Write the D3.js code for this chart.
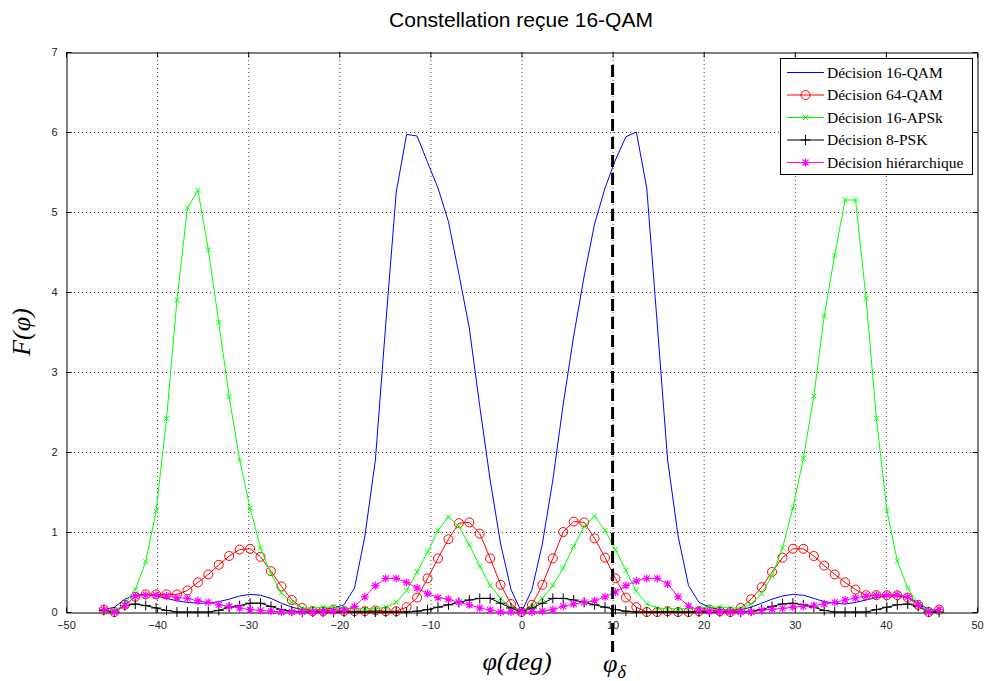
<!DOCTYPE html>
<html>
<head>
<meta charset="utf-8">
<script src="https://cdn.jsdelivr.net/npm/d3@7"></script>
<style>
  html, body { margin: 0; padding: 0; background: #fff; }
  svg { display: block; }
</style>
</head>
<body>
<svg id="chart" width="985" height="681"></svg>
<script>
// ---------- DATA ----------
// phase offsets (degrees)
const phi = [
 -45.84, -44.69, -43.54, -42.40, -41.25, -40.11, -38.96, -37.82, -36.67, -35.52,
 -34.38, -33.23, -32.09, -30.94, -29.79, -28.65, -27.50, -26.36, -25.21, -24.06,
 -22.92, -21.77, -20.63, -19.48, -18.33, -17.19, -16.04, -14.90, -13.75, -12.61,
 -11.46, -10.31, -9.17, -8.02, -6.88, -5.73, -4.58, -3.44, -2.29, -1.15,
 0,
 1.15, 2.29, 3.44, 4.58, 5.73, 6.88, 8.02, 9.17, 10.31, 11.46,
 12.61, 13.75, 14.90, 16.04, 17.19, 18.33, 19.48, 20.63, 21.77, 22.92,
 24.06, 25.21, 26.36, 27.50, 28.65, 29.79, 30.94, 32.09, 33.23, 34.38,
 35.52, 36.67, 37.82, 38.96, 40.11, 41.25, 42.40, 43.54, 44.69, 45.84
];

const qam16 = [
 0.03, 0.06, 0.16, 0.21, 0.22, 0.20, 0.17, 0.14, 0.12, 0.11,
 0.11, 0.13, 0.16, 0.20, 0.22, 0.21, 0.17, 0.11, 0.06, 0.03,
 0.02, 0.03, 0.05, 0.09, 0.30, 0.95, 1.90, 3.60, 5.25, 5.97,
 5.95, 5.62, 5.30, 4.88, 4.23, 3.55, 2.57, 1.65, 0.85, 0.28,
 0.00,
 0.28, 0.85, 1.65, 2.60, 3.45, 4.20, 4.85, 5.30, 5.65, 5.94,
 6.00, 5.30, 3.60, 1.90, 0.95, 0.33, 0.12, 0.06, 0.03, 0.02,
 0.03, 0.06, 0.11, 0.16, 0.20, 0.22, 0.21, 0.17, 0.13, 0.11,
 0.10, 0.12, 0.15, 0.18, 0.20, 0.20, 0.18, 0.12, 0.03, 0.02
];

const qam64 = [
 0.03, 0.00, 0.09, 0.19, 0.22, 0.22, 0.22, 0.22, 0.27, 0.37,
 0.47, 0.59, 0.70, 0.78, 0.79, 0.69, 0.51, 0.32, 0.15, 0.05,
 0.01, 0.01, 0.03, 0.01, 0.01, 0.01, 0.02, 0.01, 0.01, 0.06,
 0.18, 0.42, 0.67, 0.91, 1.11, 1.12, 0.98, 0.67, 0.34, 0.10,
 0.00,
 0.09, 0.34, 0.67, 1.00, 1.13, 1.12, 0.92, 0.68, 0.42, 0.18,
 0.06, 0.00, 0.00, 0.01, 0.00, 0.00, 0.01, 0.03, 0.01, 0.00,
 0.05, 0.16, 0.31, 0.50, 0.68, 0.79, 0.79, 0.70, 0.58, 0.47,
 0.37, 0.28, 0.21, 0.21, 0.21, 0.21, 0.18, 0.09, 0.00, 0.03
];

const apsk16 = [
 0.00, 0.02, 0.10, 0.28, 0.63, 1.26, 2.42, 3.90, 5.05, 5.27,
 4.53, 3.62, 2.69, 1.90, 1.30, 0.80, 0.48, 0.24, 0.12, 0.05,
 0.05, 0.06, 0.06, 0.05, 0.04, 0.04, 0.04, 0.06, 0.12, 0.27,
 0.50, 0.75, 1.02, 1.19, 1.07, 0.84, 0.57, 0.33, 0.17, 0.05,
 0.00,
 0.07, 0.17, 0.33, 0.55, 0.82, 1.07, 1.20, 1.02, 0.78, 0.52,
 0.26, 0.10, 0.05, 0.04, 0.04, 0.04, 0.05, 0.06, 0.06, 0.05,
 0.05, 0.10, 0.23, 0.45, 0.80, 1.30, 1.92, 2.70, 3.70, 4.46,
 5.15, 5.15, 3.92, 2.42, 1.27, 0.64, 0.30, 0.10, 0.02, 0.00
];

const psk8 = [
 0.02, 0.00, 0.08, 0.10, 0.08, 0.05, 0.02, 0.00, 0.00, 0.00,
 0.00, 0.02, 0.06, 0.08, 0.11, 0.11, 0.07, 0.03, 0.01, 0.00,
 0.00, 0.00, 0.00, 0.00, 0.00, 0.00, 0.00, 0.00, 0.00, 0.00,
 0.01, 0.03, 0.06, 0.09, 0.12, 0.15, 0.17, 0.17, 0.11, 0.05,
 0.00,
 0.05, 0.11, 0.17, 0.17, 0.15, 0.12, 0.09, 0.06, 0.03, 0.01,
 0.00, 0.00, 0.00, 0.00, 0.00, 0.00, 0.00, 0.00, 0.00, 0.00,
 0.00, 0.01, 0.03, 0.07, 0.10, 0.11, 0.09, 0.06, 0.02, 0.00,
 0.00, 0.00, 0.00, 0.03, 0.06, 0.09, 0.10, 0.07, 0.00, 0.00
];

const hier = [
 0.03, 0.00, 0.08, 0.20, 0.21, 0.21, 0.20, 0.18, 0.17, 0.14,
 0.12, 0.09, 0.07, 0.05, 0.03, 0.02, 0.01, 0.00, 0.00, 0.00,
 0.00, 0.00, 0.01, 0.02, 0.07, 0.19, 0.33, 0.42, 0.42, 0.37,
 0.30, 0.23, 0.18, 0.16, 0.12, 0.09, 0.05, 0.025, 0.00, 0.00,
 0.00,
 0.00, 0.01, 0.03, 0.07, 0.10, 0.12, 0.14, 0.19, 0.25, 0.33,
 0.39, 0.42, 0.42, 0.35, 0.19, 0.075, 0.025, 0.01, 0.00, 0.00,
 0.00, 0.00, 0.02, 0.035, 0.045, 0.06, 0.07, 0.08, 0.10, 0.12,
 0.15, 0.175, 0.20, 0.21, 0.21, 0.215, 0.19, 0.09, 0.00, 0.03
];

const seriesNames = ["Décision 16-QAM", "Décision 64-QAM", "Décision 16-APSk", "Décision 8-PSK", "Décision hiérarchique"];
const seriesValues = [qam16, qam64, apsk16, psk8, hier];
const seriesColors = ["#0000ff", "#ff0000", "#00ff00", "#000000", "#ff00ff"];
const seriesMarkers = ["none", "circle", "x", "plus", "star"];

const xTicks = [-50, -40, -30, -20, -10, 0, 10, 20, 30, 40, 50];
const yTicks = [0, 1, 2, 3, 4, 5, 6, 7];
const phiDelta = 10;
const titleText = "Constellation reçue 16-QAM";

// ---------- LAYOUT ----------
const W = 985, H = 681;
const m = { left: 66, right: 977, top: 52, bottom: 612 };

const svg = d3.select("#chart");
svg.append("rect").attr("width", W).attr("height", H).attr("fill", "#fff");

const x = d3.scaleLinear().domain([-50, 50]).range([m.left, m.right]);
const y = d3.scaleLinear().domain([0, 7]).range([m.bottom, m.top]);

// grid
const grid = svg.append("g");
grid.selectAll("line.gx").data(xTicks.filter(t => t > -50 && t < 50)).join("line")
  .attr("x1", d => x(d) + 0.5).attr("x2", d => x(d) + 0.5)
  .attr("y1", m.top).attr("y2", m.bottom)
  .attr("stroke", "#000").attr("stroke-width", 1).attr("stroke-dasharray", "1,3").attr("opacity", 0.75);
grid.selectAll("line.gy").data(yTicks.filter(t => t > 0 && t < 7)).join("line")
  .attr("y1", d => y(d) + 0.5).attr("y2", d => y(d) + 0.5)
  .attr("x1", m.left).attr("x2", m.right)
  .attr("stroke", "#000").attr("stroke-width", 1).attr("stroke-dasharray", "1,3").attr("opacity", 0.75);

// axes (MATLAB style: ticks inward, box)
const tickFont = "Liberation Sans, Arial, sans-serif";
const xAxisB = d3.axisBottom(x).tickValues(xTicks).tickSizeInner(-5).tickSizeOuter(0).tickPadding(9).tickFormat(d3.format("d"));
const xAxisT = d3.axisTop(x).tickValues(xTicks).tickSizeInner(-5).tickSizeOuter(0).tickFormat("");
const yAxisL = d3.axisLeft(y).tickValues(yTicks).tickSizeInner(-5).tickSizeOuter(0).tickPadding(9).tickFormat(d3.format("d"));
const yAxisR = d3.axisRight(y).tickValues(yTicks).tickSizeInner(-5).tickSizeOuter(0).tickFormat("");

function styleAxis(g) {
  g.select(".domain").attr("stroke", "#000").attr("stroke-width", 1);
  g.selectAll(".tick line").attr("stroke", "#000");
  g.selectAll(".tick text").attr("font-family", tickFont).attr("font-size", 11).attr("fill", "#222");
}
svg.append("g").attr("transform", `translate(0,${m.bottom + 0.5})`).call(xAxisB).call(styleAxis);
svg.append("g").attr("transform", `translate(0,${m.top + 0.5})`).call(xAxisT).call(styleAxis);
svg.append("g").attr("transform", `translate(${m.left + 0.5},0)`).call(yAxisL).call(styleAxis);
svg.append("g").attr("transform", `translate(${m.right + 0.5},0)`).call(yAxisR).call(styleAxis);

// series
const line = d3.line().x((d, i) => x(phi[i])).y(d => y(d));
const plot = svg.append("g");

function drawMarker(g, type, color, cx, cy) {
  if (type === "circle") {
    g.append("circle").attr("cx", cx).attr("cy", cy).attr("r", 4.5)
      .attr("fill", "none").attr("stroke", color).attr("stroke-width", 1);
  } else if (type === "x") {
    const s = 2.5;
    g.append("path").attr("d", `M${cx - s},${cy - s}L${cx + s},${cy + s}M${cx - s},${cy + s}L${cx + s},${cy - s}`)
      .attr("stroke", color).attr("stroke-width", 1).attr("fill", "none");
  } else if (type === "plus") {
    const s = 5;
    g.append("path").attr("d", `M${cx - s},${cy}L${cx + s},${cy}M${cx},${cy - s}L${cx},${cy + s}`)
      .attr("stroke", color).attr("stroke-width", 1).attr("fill", "none");
  } else if (type === "star") {
    const s = 4, t = 3;
    g.append("path").attr("d",
      `M${cx - s},${cy}L${cx + s},${cy}M${cx},${cy - s}L${cx},${cy + s}` +
      `M${cx - t},${cy - t}L${cx + t},${cy + t}M${cx - t},${cy + t}L${cx + t},${cy - t}`)
      .attr("stroke", color).attr("stroke-width", 1.2).attr("fill", "none");
  }
}

seriesValues.forEach((vals, si) => {
  const g = plot.append("g");
  g.append("path").datum(vals).attr("d", line)
    .attr("fill", "none").attr("stroke", seriesColors[si]).attr("stroke-width", 1);
  if (seriesMarkers[si] !== "none") {
    vals.forEach((v, i) => drawMarker(g, seriesMarkers[si], seriesColors[si], x(phi[i]), y(v)));
  }
});

// dashed vertical line at phi_delta
svg.append("line")
  .attr("x1", x(phiDelta)).attr("x2", x(phiDelta))
  .attr("y1", 65).attr("y2", 652)
  .attr("stroke", "#000").attr("stroke-width", 3).attr("stroke-dasharray", "12,6");

// legend
const lg = svg.append("g");
lg.append("rect").attr("x", 780.5).attr("y", 58.5).attr("width", 192).attr("height", 116)
  .attr("fill", "#fff").attr("stroke", "#000").attr("stroke-width", 1);
seriesNames.forEach((name, i) => {
  const ly = 72.5 + i * 22.5;
  lg.append("line").attr("x1", 787).attr("x2", 824).attr("y1", ly).attr("y2", ly)
    .attr("stroke", seriesColors[i]).attr("stroke-width", 1);
  if (seriesMarkers[i] !== "none") drawMarker(lg, seriesMarkers[i], seriesColors[i], 805.5, ly);
  lg.append("text").attr("x", 827).attr("y", ly + 5).text(name)
    .attr("font-family", "Liberation Serif, Times New Roman, serif").attr("font-size", 15.5).attr("fill", "#000");
});

// title
svg.append("text").attr("x", 521).attr("y", 27).attr("text-anchor", "middle")
  .attr("font-family", "Liberation Sans, Arial, sans-serif").attr("font-size", 21).attr("fill", "#000")
  .text(titleText);

// axis labels
const mathFont = "Liberation Serif, Times New Roman, serif";
svg.append("text").attr("x", 517).attr("y", 670).attr("text-anchor", "middle")
  .attr("font-family", mathFont).attr("font-style", "italic").attr("font-size", 26)
  .text("φ(deg)");
svg.append("text").attr("transform", "translate(30,332) rotate(-90)").attr("text-anchor", "middle")
  .attr("font-family", mathFont).attr("font-style", "italic").attr("font-size", 26)
  .text("F(φ)");
const pd = svg.append("text").attr("x", 603).attr("y", 672)
  .attr("font-family", mathFont).attr("font-style", "italic").attr("font-size", 26);
pd.append("tspan").text("φ");
pd.append("tspan").attr("font-size", 18).attr("dy", 6).text("δ");
</script>
</body>
</html>
